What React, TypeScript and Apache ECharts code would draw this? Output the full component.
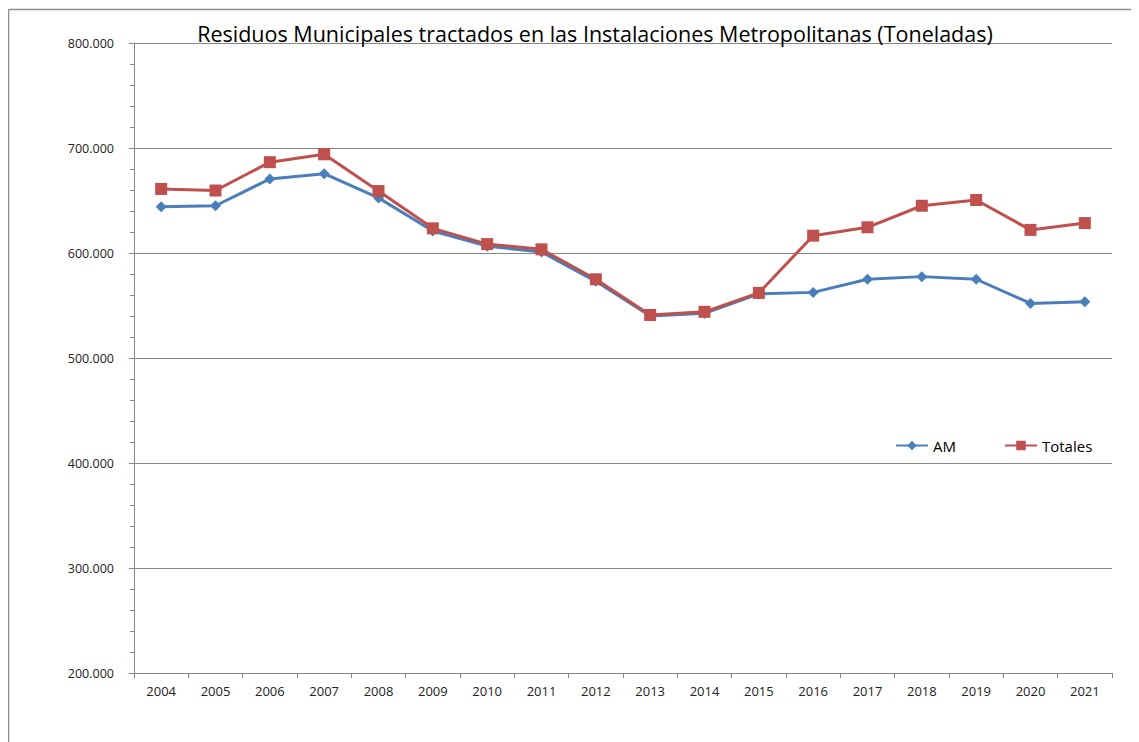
import React, { useEffect, useRef } from "react";
import * as echarts from "echarts";

const years = ["2004","2005","2006","2007","2008","2009","2010","2011","2012","2013","2014","2015","2016","2017","2018","2019","2020","2021"];
const amValues = [644000, 645000, 670500, 675500, 652500, 621000, 606500, 601000, 573000, 540000, 542500, 561000, 562500, 575000, 577500, 575000, 552000, 553500];
const totalesValues = [661000, 659500, 686500, 694000, 659000, 623500, 608500, 603500, 575000, 541000, 544000, 562000, 616500, 624500, 645000, 650500, 622000, 628500];
const titleText = "Residuos Municipales tractados en las Instalaciones Metropolitanas (Toneladas)";

const FONT = "'Open Sans', sans-serif";

function fmt(v: number): string {
  return String(Math.round(v)).replace(/\B(?=(\d{3})+(?!\d))/g, ".");
}

export default function App() {
  const ref = useRef<HTMLDivElement>(null);
  useEffect(() => {
    if (!ref.current) return;
    const chart = echarts.init(ref.current, undefined, { renderer: "svg" });
    chart.setOption({
      animation: false,
      backgroundColor: "#ffffff",
      title: {
        text: titleText,
        left: 582,
        top: 9,
        textAlign: "center",
        textStyle: { fontFamily: FONT, fontSize: 21.5, fontWeight: "normal", color: "#000" },
      },
      graphic: [
        {
          type: "line",
          shape: { x1: 0.5, y1: 1.5, x2: 1131, y2: 1.5 },
          style: { stroke: "#8c8c8c", lineWidth: 1.5 },
          silent: true,
        },
        {
          type: "line",
          shape: { x1: 0.5, y1: 1.5, x2: 0.5, y2: 734 },
          style: { stroke: "#8c8c8c", lineWidth: 1.5 },
          silent: true,
        },
      ],
      legend: {
        left: 882,
        top: 425,
        itemWidth: 32,
        itemHeight: 12,
        itemGap: 48,
        textStyle: { fontFamily: FONT, fontSize: 15, color: "#000" },
        data: ["AM", "Totales"],
      },
      grid: { left: 126, right: 27, top: 35, bottom: 69, containLabel: false },
      xAxis: {
        type: "category",
        data: years,
        boundaryGap: true,
        axisLine: { lineStyle: { color: "#868686", width: 1 } },
        axisTick: { show: true, length: 5, inside: false, lineStyle: { color: "#868686" } },
        axisLabel: { fontFamily: FONT, fontSize: 13, color: "#222", margin: 11 },
        splitLine: { show: false },
      },
      yAxis: {
        type: "value",
        min: 200000,
        max: 800000,
        interval: 100000,
        axisLine: { show: true, lineStyle: { color: "#868686", width: 1 } },
        axisTick: { show: true, length: 5, lineStyle: { color: "#868686" } },
        minorTick: { show: true, splitNumber: 5, length: 4, lineStyle: { color: "#868686" } },
        axisLabel: { fontFamily: FONT, fontSize: 12.5, color: "#222", margin: 20, formatter: (v: number) => fmt(v) },
        splitLine: { show: true, lineStyle: { color: "#868686", width: 1 } },
      },
      series: [
        {
          name: "AM",
          type: "line",
          data: amValues,
          symbol: "diamond",
          symbolSize: 11,
          lineStyle: { color: "#4a7ebb", width: 3 },
          itemStyle: { color: "#4a7ebb" },
        },
        {
          name: "Totales",
          type: "line",
          data: totalesValues,
          symbol: "rect",
          symbolSize: 12,
          lineStyle: { color: "#c0504d", width: 3 },
          itemStyle: { color: "#c0504d" },
        },
      ],
    });
    return () => chart.dispose();
  }, []);
  return <div ref={ref} style={{ width: 1131, height: 734 }} />;
}
